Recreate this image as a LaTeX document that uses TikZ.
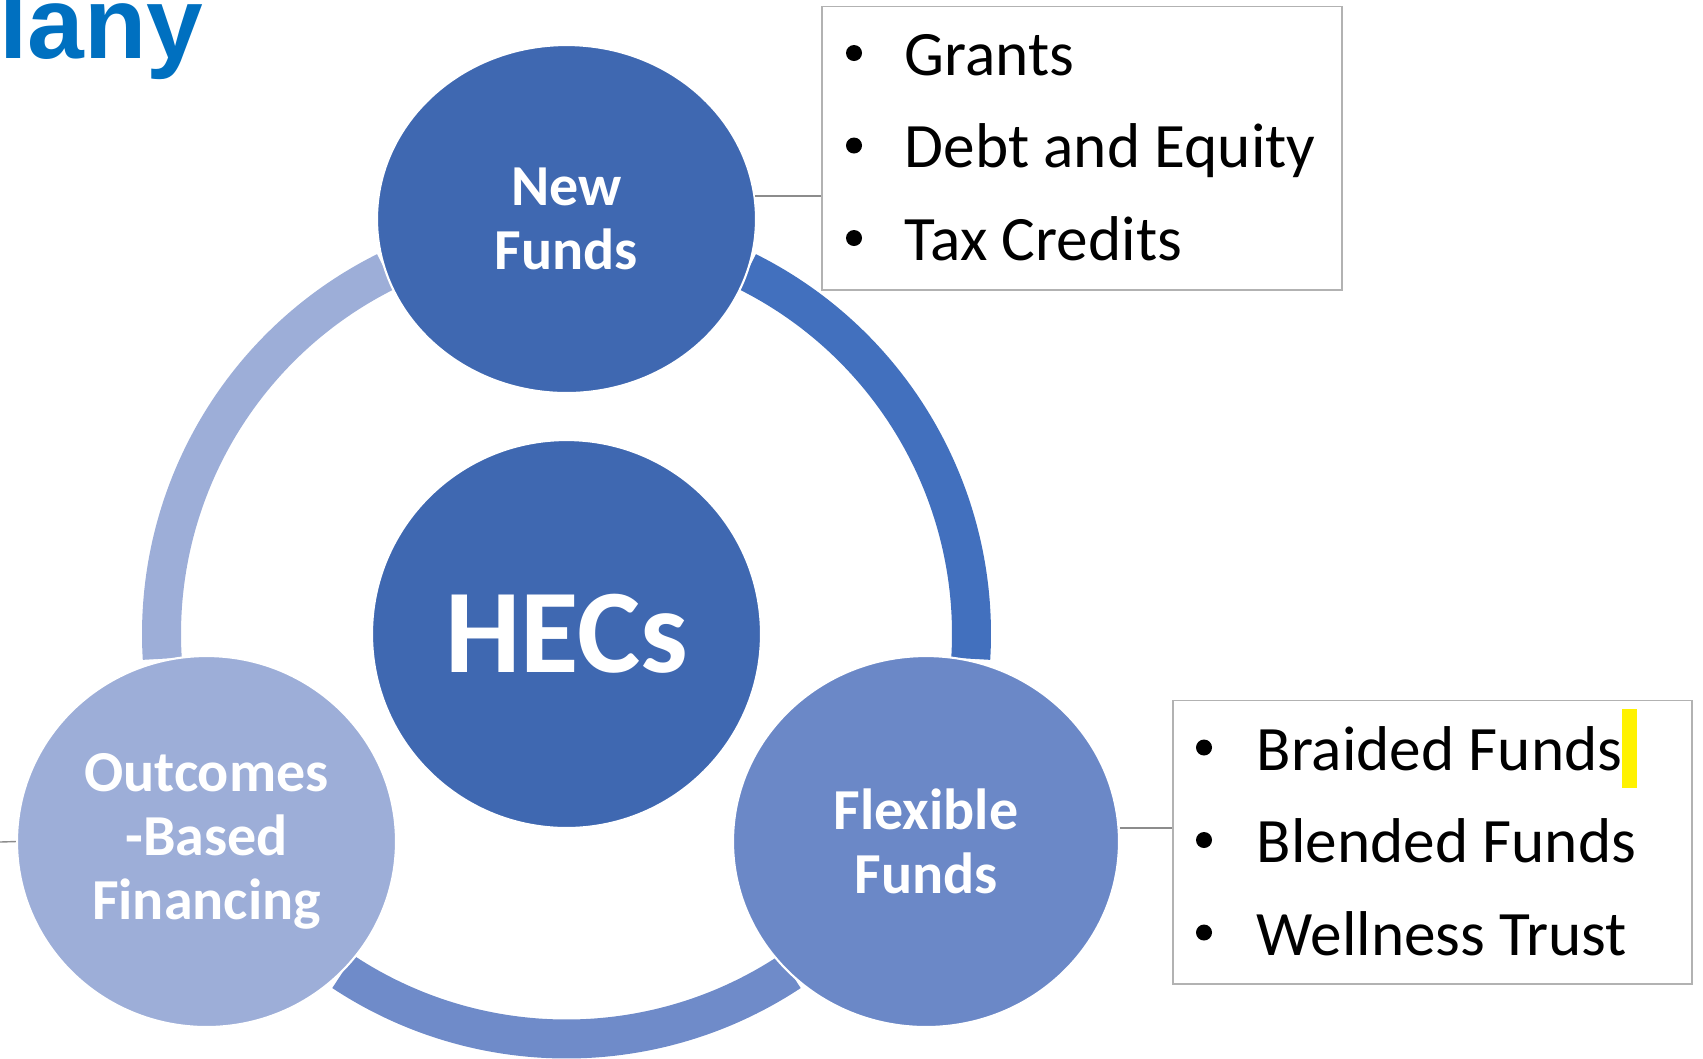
\documentclass[tikz,border=0pt]{standalone}
\usepackage{fontspec}
\setmainfont{Carlito}
\newfontfamily\headfont{Liberation Sans}
\usetikzlibrary{shapes,positioning,calc}

\definecolor{hecblue}{HTML}{3F68B1}
\definecolor{arcblue}{HTML}{4270BE}
\definecolor{midblue}{HTML}{6B88C7}
\definecolor{arcmid}{HTML}{6F8BC9}
\definecolor{paleblue}{HTML}{9DAED8}
\definecolor{headblue}{HTML}{0070C0}

\tikzset{
  bubble/.style={ellipse, draw=white, line width=0.6pt, inner sep=0pt, text=white, align=center,
    font=\fontsize{16.5}{18.3}\selectfont\bfseries},
  ringarc/.style={line width=0.39cm},
  listbox/.style={rectangle, draw=black!30, line width=0.5pt, inner sep=0pt},
  item/.style={anchor=base west, inner sep=0pt, font=\fontsize{18}{20}\selectfont},
  link/.style={draw=black!45, line width=0.4pt}
}

\begin{document}
\begin{tikzpicture}
    \useasboundingbox (0,0) rectangle (17.03,-10.58);

    % Heading
    \node[anchor=base east, inner sep=0pt, text=headblue, font=\headfont\fontsize{29}{30}\selectfont\bfseries] (heading) at (2.04,-0.58) {lany};

    % Ring
    \coordinate (ring) at (5.665,-6.34);
    \draw[ringarc, arcblue] ([shift={(63.5:4.05)}]ring) arc[start angle=63.5, end angle=-3.5, radius=4.05];
    \draw[ringarc, arcmid] ([shift={(-56.5:4.05)}]ring) arc[start angle=-56.5, end angle=-123.5, radius=4.05];
    \draw[ringarc, paleblue] ([shift={(183.5:4.05)}]ring) arc[start angle=183.5, end angle=116.5, radius=4.05];

    % Bubbles
    \node[bubble, fill=hecblue, minimum width=3.89cm, minimum height=3.88cm, font=\fontsize{34}{36}\selectfont\bfseries] (hecs) at (ring) {HECs};
    \node[bubble, fill=hecblue, minimum width=3.79cm, minimum height=3.48cm] (newfunds) at (5.665,-2.19) {New\\Funds};
    \node[bubble, fill=midblue, minimum width=3.86cm, minimum height=3.71cm] (flexfunds) at (9.26,-8.415) {Flexible\\Funds};
    \node[bubble, fill=paleblue, minimum width=3.79cm, minimum height=3.71cm] (outcomes) at (2.065,-8.415) {Outcomes\\-Based\\Financing};

    % Top list
    \node[listbox, minimum width=5.2cm, minimum height=2.835cm] (topbox) at (10.82,-1.4825) {};
    \foreach \txt [count=\i, evaluate=\i as \y using -0.75-0.925*(\i-1)] in {Grants, Debt and Equity, Tax Credits} {
        \node[item] (fund\i) at (9.04,\y) {\txt};
        \fill ($(fund\i.base west)+(-0.5,0.22)$) circle (0.08);
    }

    % Bottom list
    \node[listbox, minimum width=5.19cm, minimum height=2.835cm] (botbox) at (14.325,-8.4225) {};
    \foreach \txt [count=\i, evaluate=\i as \y using -7.70-0.925*(\i-1)] in {Braided Funds, Blended Funds, Wellness Trust} {
        \node[item] (flex\i) at (12.56,\y) {\txt};
        \fill ($(flex\i.base west)+(-0.52,0.225)$) circle (0.08);
    }
    \fill[yellow] (16.22,-7.09) rectangle (16.37,-7.88);

    % Links
    \coordinate (offleft) at (0,-8.42);
    \draw[link] (newfunds.7) -- (newfunds.7 -| topbox.west);
    \draw[link] (flexfunds.4) -- (flexfunds.4 -| botbox.west);
    \draw[link] (outcomes.west) -- (offleft);
\end{tikzpicture}
\end{document}
